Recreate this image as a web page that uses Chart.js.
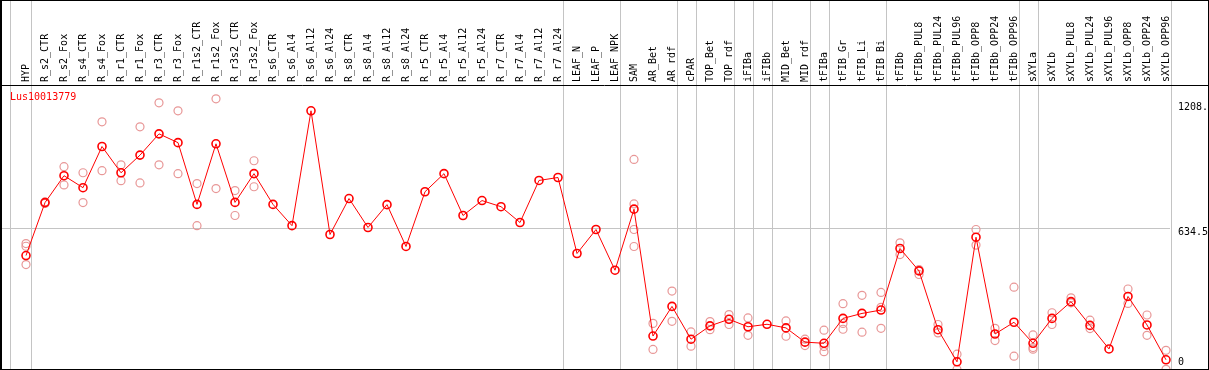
<!DOCTYPE html>
<html>
<head>
<meta charset="utf-8">
<script src="https://cdn.jsdelivr.net/npm/chart.js@4.4.1/dist/chart.umd.min.js"></script>
<style>
  html, body { margin: 0; padding: 0; background: #fff; overflow: hidden; }
  #wrap { width: 1209px; height: 370px; overflow: hidden; }
</style>
</head>
<body>
<div id="wrap"><canvas id="chart" width="1209" height="373"></canvas></div>
<script>
const geneId = 'Lus10013779';

const categories = [
    'HYP', 'R_s2_CTR', 'R_s2_Fox', 'R_s4_CTR', 'R_s4_Fox', 'R_r1_CTR', 'R_r1_Fox',
    'R_r3_CTR', 'R_r3_Fox', 'R_r1s2_CTR', 'R_r1s2_Fox', 'R_r3s2_CTR', 'R_r3s2_Fox',
    'R_s6_CTR', 'R_s6_Al4', 'R_s6_Al12', 'R_s6_Al24', 'R_s8_CTR', 'R_s8_Al4', 'R_s8_Al12',
    'R_s8_Al24', 'R_r5_CTR', 'R_r5_Al4', 'R_r5_Al12', 'R_r5_Al24', 'R_r7_CTR', 'R_r7_Al4',
    'R_r7_Al12', 'R_r7_Al24', 'LEAF_N', 'LEAF_P', 'LEAF_NPK', 'SAM', 'AR_Bet', 'AR_rdf',
    'cPAR', 'TOP_Bet', 'TOP_rdf', 'iFIBa', 'iFIBb', 'MID_Bet', 'MID_rdf', 'tFIBa',
    'tFIB_Gr', 'tFIB_Li', 'tFIB_Bi', 'tFIBb', 'tFIBb_PUL8', 'tFIBb_PUL24', 'tFIBb_PUL96',
    'tFIBb_OPP8', 'tFIBb_OPP24', 'tFIBb_OPP96', 'sXYLa', 'sXYLb', 'sXYLb_PUL8',
    'sXYLb_PUL24', 'sXYLb_PUL96', 'sXYLb_OPP8', 'sXYLb_OPP24', 'sXYLb_OPP96'
];

// mean expression per sample
const means = [
    515, 749, 868, 815, 997, 881, 959, 1053, 1014, 741, 1009, 750, 877,
    741, 647, 1155, 608, 767, 639, 740, 555, 797, 877, 692, 758, 731, 661, 847, 860,
    524, 630, 450, 720, 159, 290, 145, 204, 233, 200, 211, 195, 132, 127,
    237, 259, 274, 546, 447, 187, 45, 596, 168, 220, 127, 237, 311, 206, 102, 334, 208, 54
];

// individual replicates (null = none)
const repA = [
    568, 752, 908, 881, 1106, 916, 1084, 1190, 1155, 833, 1208, 802, 934,
    null, null, null, null, null, null, null, null, null, null, null, null, null, null, null, null,
    null, null, null, 940, 215, 358, 177, 223, 254, 239, null, 226, 145, 185,
    302, 339, 352, 571, 453, 210, 79, 630, 193, 375, 164, 262, 328, 229, null, 367, 252, 96
];
const repB = [
    556, 745, 827, 749, 890, 846, 836, 916, 877, 647, 811, 692, 819,
    null, null, null, null, null, null, null, null, null, null, null, null, null, null, null, null,
    null, null, null, 743, 100, 224, 114, 187, 210, 162, null, 158, 117, 113,
    215, 176, 286, 519, 431, 173, 11, 561, 139, 70, 108, 210, 306, 192, null, 303, 162, 12
];
const repC = [
    475, null, null, null, null, null, null, null, null, null, null, null, null,
    null, null, null, null, null, null, null, null, null, null, null, null, null, null, null, null,
    null, null, null, 630, null, null, null, null, null, null, null, null, null, 90,
    189, null, 193, null, null, null, null, null, null, null, 101, null, null, null, null, null, null, null
];
const repD = [
    null, null, null, null, null, null, null, null, null, null, null, null, null,
    null, null, null, null, null, null, null, null, null, null, null, null, null, null, null, null,
    null, null, null, 555, null, null, null, null, null, null, null, null, null, null,
    null, null, null, null, null, null, null, null, null, null, null, null, null, null, null, null, null, null
];

// last sample of each tissue group
const groupLast = [0, 28, 31, 34, 35, 37, 38, 39, 41, 42, 45, 52, 53, 60];

const axisMax = 1269;
const tickValues = [0, 634.5, 1208];
const tickLabels = ['0', '634.5', '1208.'];

const MONO = 'DejaVu Sans Mono';

function points(arr) {
    const out = [];
    arr.forEach((v, i) => { if (v !== null) out.push({ x: i, y: v }); });
    return out;
}

function repSet(arr) {
    return {
        type: 'scatter',
        data: points(arr),
        showLine: false,
        pointStyle: 'circle',
        pointRadius: 4,
        pointHoverRadius: 4,
        pointBorderWidth: 1.2,
        pointBorderColor: '#e89797',
        pointBackgroundColor: 'rgba(0,0,0,0)',
        order: 2,
        clip: false
    };
}

const decor = {
    id: 'decor',
    beforeDatasetsDraw(chart) {
        const ctx = chart.ctx;
        const xs = chart.scales.x;
        ctx.save();
        ctx.strokeStyle = '#c4c4c4';
        ctx.lineWidth = 1;
        const edges = [-0.84].concat(groupLast.map(i => i + 0.24));
        edges.forEach(v => {
            const px = Math.round(xs.getPixelForValue(v)) + 0.5;
            ctx.beginPath();
            ctx.moveTo(px, 0);
            ctx.lineTo(px, 370);
            ctx.stroke();
        });
        ctx.restore();
    },
    afterDraw(chart) {
        const ctx = chart.ctx;
        const area = chart.chartArea;
        const ys = chart.scales.y;
        ctx.save();

        // gene name
        ctx.fillStyle = '#ff0000';
        ctx.font = '10px "' + MONO + '"';
        ctx.textBaseline = 'middle';
        ctx.textAlign = 'left';
        ctx.fillText(geneId, 10, area.top + 12);

        // value labels on the right
        ctx.fillStyle = '#000';
        tickValues.forEach((v, i) => {
            let y = ys.getPixelForValue(v) + 4;
            y = Math.max(area.top + 22, Math.min(y, 362));
            ctx.fillText(tickLabels[i], area.right + 8, y);
        });

        // frame
        ctx.strokeStyle = '#000';
        ctx.lineWidth = 1;
        ctx.strokeRect(0.5, 0.5, 1208, 369);
        ctx.fillRect(0, 0, 2, 370);
        ctx.beginPath();
        ctx.moveTo(0, Math.round(area.top) + 0.5);
        ctx.lineTo(1209, Math.round(area.top) + 0.5);
        ctx.stroke();
        ctx.restore();
    }
};

new Chart(document.getElementById('chart'), {
    type: 'line',
    data: {
        datasets: [
            {
                data: points(means),
                borderColor: '#ff0000',
                borderWidth: 1,
                tension: 0,
                pointStyle: 'circle',
                pointRadius: 4,
                pointHoverRadius: 4,
                pointBorderWidth: 1.6,
                pointBorderColor: '#ff0000',
                pointBackgroundColor: 'rgba(0,0,0,0)',
                order: 1,
                clip: false
            },
            repSet(repA),
            repSet(repB),
            repSet(repC),
            repSet(repD)
        ]
    },
    plugins: [decor],
    options: {
        responsive: false,
        animation: false,
        devicePixelRatio: 1,
        layout: { autoPadding: false, padding: { left: 2, right: 0, top: 0, bottom: 1 } },
        plugins: { legend: { display: false }, tooltip: { enabled: false } },
        scales: {
            x: {
                type: 'linear',
                position: 'top',
                bounds: 'data',
                min: -1.26316,
                max: 60.2105,
                afterBuildTicks: s => { s.ticks = categories.map((c, i) => ({ value: i })); },
                afterFit: s => { s.height = 85; s.paddingLeft = 0; s.paddingRight = 0; },
                grid: { display: false, drawTicks: false },
                border: { display: false },
                ticks: {
                    autoSkip: false,
                    minRotation: 90,
                    maxRotation: 90,
                    padding: 3,
                    labelOffset: 12,
                    color: '#000',
                    font: { family: MONO, size: 10 },
                    callback: v => categories[v]
                }
            },
            y: {
                type: 'linear',
                position: 'right',
                bounds: 'data',
                min: 0,
                max: axisMax,
                afterBuildTicks: s => { s.ticks = tickValues.map(v => ({ value: v })); },
                afterFit: s => { s.width = 39; s.paddingTop = 0; s.paddingBottom = 0; },
                grid: {
                    drawTicks: false,
                    color: c => (c.tick && c.tick.value === 634.5) ? '#c4c4c4' : 'rgba(0,0,0,0)'
                },
                border: { display: false },
                ticks: { display: false }
            }
        }
    }
});
</script>
</body>
</html>
